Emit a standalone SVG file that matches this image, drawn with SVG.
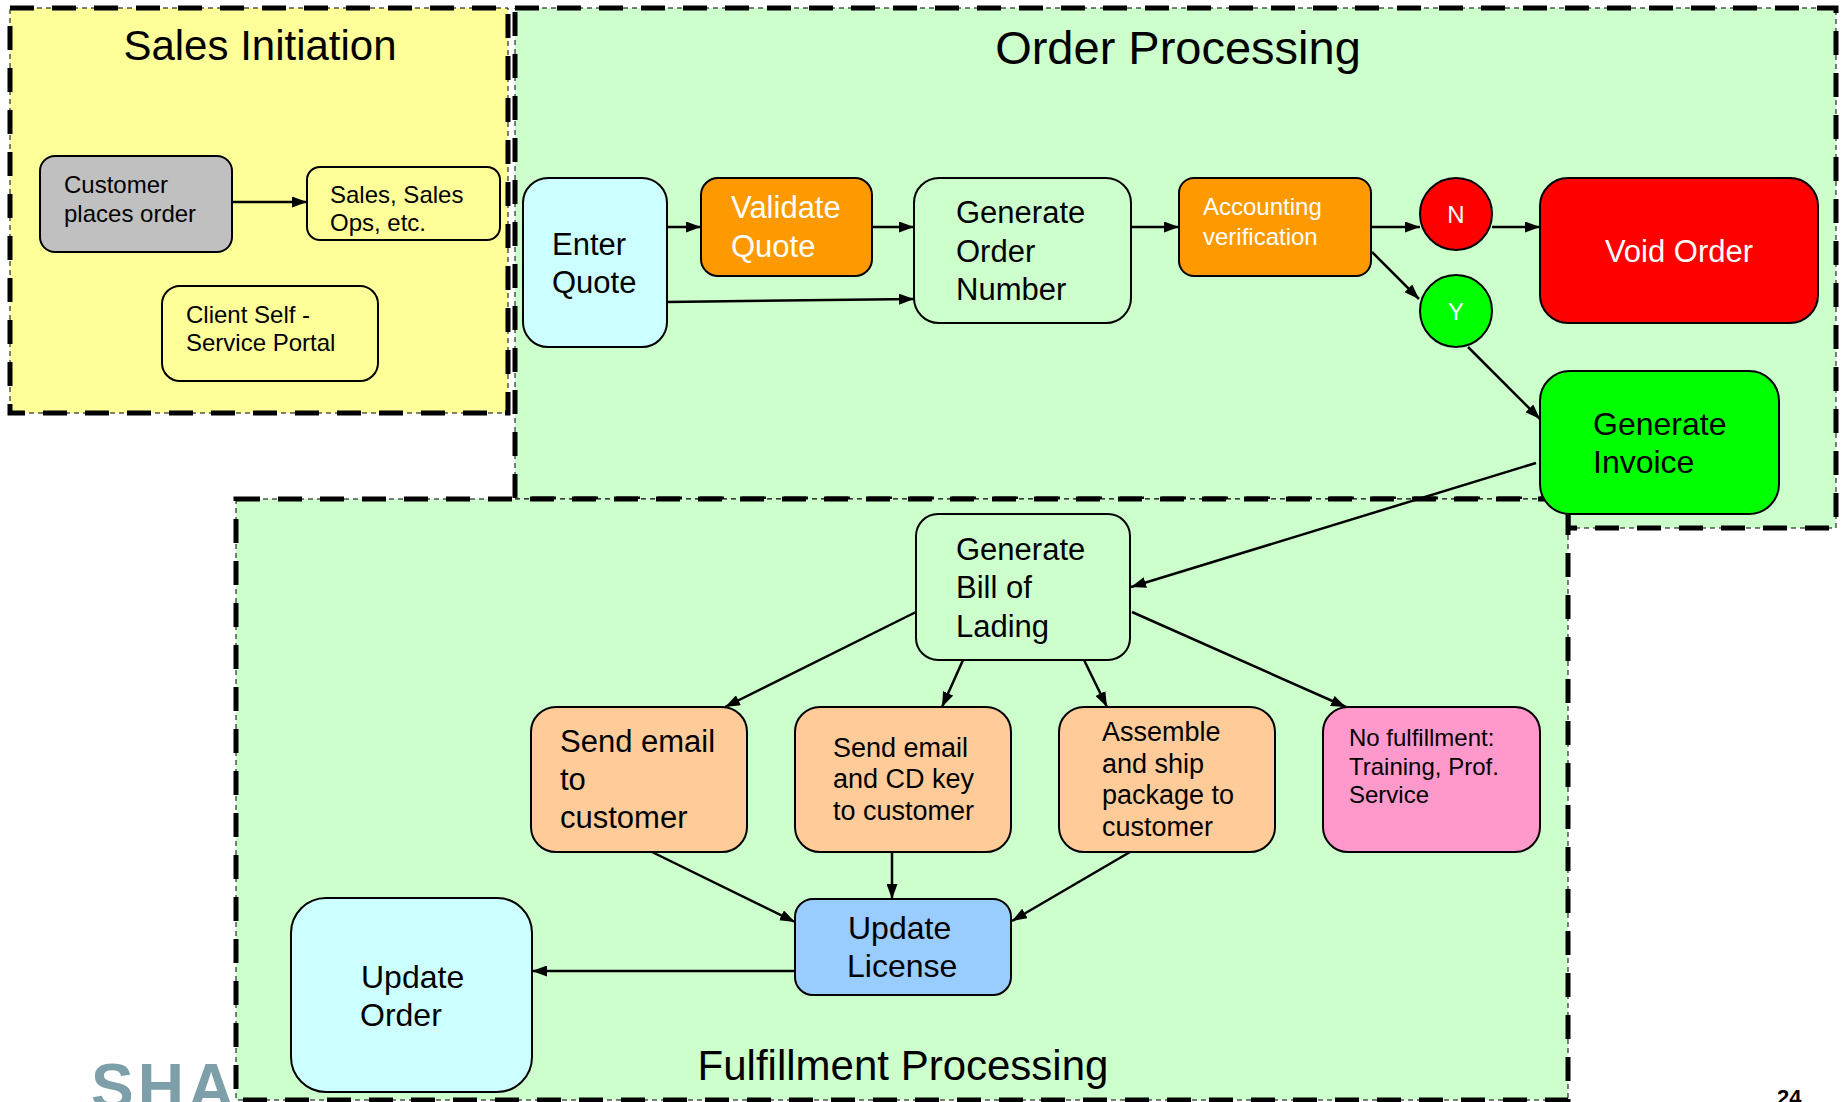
<svg xmlns="http://www.w3.org/2000/svg" width="1845" height="1102" viewBox="0 0 1845 1102">
  <style>
    text { font-family: "Liberation Sans", Arial, sans-serif; fill: #000; }
    .title { font-size: 42px; text-anchor: middle; }
    .region-thin { fill: none; stroke: #000; stroke-width: 1; stroke-dasharray: 5 4; }
    .region-thick { fill: none; stroke: #000; stroke-width: 5; stroke-dasharray: 24 18; }
    .node { stroke: #000; stroke-width: 2; }
    .edge { fill: none; stroke: #000; stroke-width: 2.5; }
    .t24 { font-size: 24px; }
    .t27 { font-size: 27px; }
    .t31 { font-size: 31px; }
    .t32 { font-size: 32px; }
    .white { fill: #fff; }
    .mid { text-anchor: middle; }
  </style>
  <defs>
    <marker id="arrow" viewBox="0 0 15 11" refX="15" refY="5.5" markerWidth="15" markerHeight="11" markerUnits="userSpaceOnUse" orient="auto">
      <path d="M0,0 L15,5.5 L0,11 z" fill="#000"/>
    </marker>
  </defs>

  <rect width="1845" height="1102" fill="#fff"/>

  <!-- logo fragment and page number -->
  <text x="91" y="1109" font-size="64" font-weight="bold" letter-spacing="4" style="fill:#7d9fa9">SHA</text>
  <text x="1777" y="1105" font-size="22" font-weight="bold">24</text>

  <!-- swimlane regions -->
  <g id="region-sales">
    <rect x="10" y="8" width="498" height="405" fill="#ffff99"/>
    <rect x="10" y="8" width="498" height="405" class="region-thin"/>
    <rect x="10" y="8" width="498" height="405" class="region-thick"/>
    <text class="title" x="260" y="60">Sales Initiation</text>
  </g>
  <g id="region-order">
    <polygon points="515,8 1836,8 1836,528 1568,528 1568,499 515,499" fill="#ccffcc"/>
    <polygon points="515,8 1836,8 1836,528 1568,528 1568,499 515,499" class="region-thin"/>
    <polygon points="515,8 1836,8 1836,528 1568,528 1568,499 515,499" class="region-thick"/>
    <text class="title" x="1178" y="64" style="font-size:47px">Order Processing</text>
  </g>
  <g id="region-fulfillment">
    <rect x="236" y="499" width="1332" height="601" fill="#ccffcc"/>
    <rect x="236" y="499" width="1332" height="601" class="region-thin"/>
    <rect x="236" y="499" width="1332" height="601" class="region-thick"/>
    <text class="title" x="903" y="1080">Fulfillment Processing</text>
  </g>

  <!-- connectors -->
  <g id="connectors">
    <path class="edge" marker-end="url(#arrow)" d="M232,202 L307,202"/>
    <path class="edge" marker-end="url(#arrow)" d="M667,227 L701,227"/>
    <path class="edge" marker-end="url(#arrow)" d="M866,227 L914,227"/>
    <path class="edge" marker-end="url(#arrow)" d="M667,302 L914,299"/>
    <path class="edge" marker-end="url(#arrow)" d="M1131,227 L1179,227"/>
    <path class="edge" marker-end="url(#arrow)" d="M1371,227 L1420,227"/>
    <path class="edge" marker-end="url(#arrow)" d="M1492,227 L1540,227"/>
    <path class="edge" marker-end="url(#arrow)" d="M1372,252 L1419,299"/>
    <path class="edge" marker-end="url(#arrow)" d="M1468,347 L1540,419"/>
    <path class="edge" marker-end="url(#arrow)" d="M1536,463 L1131,587"/>
    <path class="edge" marker-end="url(#arrow)" d="M916,612 L725,707"/>
    <path class="edge" marker-end="url(#arrow)" d="M963,660 L942,707"/>
    <path class="edge" marker-end="url(#arrow)" d="M1084,660 L1107,707"/>
    <path class="edge" marker-end="url(#arrow)" d="M1132,612 L1346,707"/>
    <path class="edge" marker-end="url(#arrow)" d="M652,852 L795,922"/>
    <path class="edge" marker-end="url(#arrow)" d="M892,852 L892,899"/>
    <path class="edge" marker-end="url(#arrow)" d="M1130,852 L1012,921"/>
    <path class="edge" marker-end="url(#arrow)" d="M795,971 L532,971" stroke-width="3"/>
  </g>

  <!-- sales initiation nodes -->
  <g id="customer-places-order">
    <rect class="node" x="40" y="156" width="192" height="96" rx="15" fill="#c0c0c0"/>
    <text class="t24" x="64" y="193">Customer</text>
    <text class="t24" x="64" y="222">places order</text>
  </g>
  <g id="sales-ops">
    <rect class="node" x="307" y="167" width="193" height="73" rx="13" fill="#ffff99"/>
    <text class="t24" x="330" y="203">Sales, Sales</text>
    <text class="t24" x="330" y="231">Ops, etc.</text>
  </g>
  <g id="client-portal">
    <rect class="node" x="162" y="286" width="216" height="95" rx="18" fill="#ffff99"/>
    <text class="t24" x="186" y="323">Client Self -</text>
    <text class="t24" x="186" y="351">Service Portal</text>
  </g>

  <!-- order processing nodes -->
  <g id="enter-quote">
    <rect class="node" x="523" y="178" width="144" height="169" rx="25" fill="#ccffff"/>
    <text class="t31" x="552" y="255">Enter</text>
    <text class="t31" x="552" y="293">Quote</text>
  </g>
  <g id="validate-quote">
    <rect class="node" x="701" y="178" width="171" height="98" rx="17" fill="#ff9900"/>
    <text class="t31 white" x="731" y="218">Validate</text>
    <text class="t31 white" x="731" y="257">Quote</text>
  </g>
  <g id="generate-order-number">
    <rect class="node" x="914" y="178" width="217" height="145" rx="25" fill="#ccffcc"/>
    <text class="t31" x="956" y="223">Generate</text>
    <text class="t31" x="956" y="262">Order</text>
    <text class="t31" x="956" y="300">Number</text>
  </g>
  <g id="accounting-verification">
    <rect class="node" x="1179" y="178" width="192" height="98" rx="15" fill="#ff9900"/>
    <text class="t24 white" x="1203" y="215">Accounting</text>
    <text class="t24 white" x="1203" y="245">verification</text>
  </g>
  <g id="decision-no">
    <circle class="node" cx="1456" cy="214" r="36" fill="#ff0000"/>
    <text class="t24 white mid" x="1456" y="223">N</text>
  </g>
  <g id="decision-yes">
    <circle class="node" cx="1456" cy="311" r="36" fill="#00ff00"/>
    <text class="t24 white mid" x="1456" y="320">Y</text>
  </g>
  <g id="void-order">
    <rect class="node" x="1540" y="178" width="278" height="145" rx="28" fill="#ff0000"/>
    <text class="t31 white mid" x="1679" y="262">Void Order</text>
  </g>
  <g id="generate-invoice">
    <rect class="node" x="1540" y="371" width="239" height="143" rx="30" fill="#00ff00"/>
    <text class="t32" x="1593" y="435">Generate</text>
    <text class="t32" x="1593" y="473">Invoice</text>
  </g>

  <!-- fulfillment nodes -->
  <g id="bill-of-lading">
    <rect class="node" x="916" y="514" width="214" height="146" rx="22" fill="#ccffcc"/>
    <text class="t31" x="956" y="560">Generate</text>
    <text class="t31" x="956" y="598">Bill of</text>
    <text class="t31" x="956" y="637">Lading</text>
  </g>
  <g id="send-email">
    <rect class="node" x="531" y="707" width="216" height="145" rx="25" fill="#ffcc99"/>
    <text class="t31" x="560" y="752">Send email</text>
    <text class="t31" x="560" y="790">to</text>
    <text class="t31" x="560" y="828">customer</text>
  </g>
  <g id="send-email-cd-key">
    <rect class="node" x="795" y="707" width="216" height="145" rx="25" fill="#ffcc99"/>
    <text class="t27" x="833" y="757">Send email</text>
    <text class="t27" x="833" y="788">and CD key</text>
    <text class="t27" x="833" y="820">to customer</text>
  </g>
  <g id="assemble-ship">
    <rect class="node" x="1059" y="707" width="216" height="145" rx="25" fill="#ffcc99"/>
    <text class="t27" x="1102" y="741">Assemble</text>
    <text class="t27" x="1102" y="773">and ship</text>
    <text class="t27" x="1102" y="804">package to</text>
    <text class="t27" x="1102" y="836">customer</text>
  </g>
  <g id="no-fulfillment">
    <rect class="node" x="1323" y="707" width="217" height="145" rx="25" fill="#ff99cc"/>
    <text class="t24" x="1349" y="746">No fulfillment:</text>
    <text class="t24" x="1349" y="775">Training, Prof.</text>
    <text class="t24" x="1349" y="803">Service</text>
  </g>
  <g id="update-license">
    <rect class="node" x="795" y="899" width="216" height="96" rx="18" fill="#99ccff"/>
    <text class="t32" x="848" y="939">Update</text>
    <text class="t32" x="847" y="977">License</text>
  </g>
  <g id="update-order">
    <rect class="node" x="291" y="898" width="241" height="194" rx="35" fill="#ccffff"/>
    <text class="t32" x="361" y="988">Update</text>
    <text class="t32" x="360" y="1026">Order</text>
  </g>
</svg>
